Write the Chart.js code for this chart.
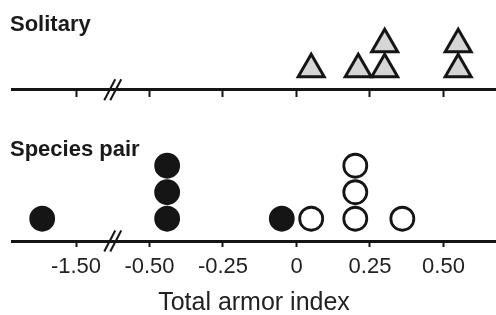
<!DOCTYPE html>
<html>
<head>
<meta charset="utf-8">
<script src="https://cdn.jsdelivr.net/npm/chart.js@4/dist/chart.umd.min.js"></script>
<style>
  html, body { margin: 0; padding: 0; background: #fff; overflow: hidden; }
  #wrap { position: relative; width: 496px; height: 315px; }
  .panel {
    position: absolute; left: 10px;
    font: bold 22px "Liberation Sans", Arial, Helvetica, sans-serif;
    line-height: 22px; color: #1a1a1a; white-space: nowrap;
  }
</style>
</head>
<body>
<div id="wrap">
  <canvas id="armorChart" width="496" height="315"></canvas>
  <div class="panel" style="top:13px">Solitary</div>
  <div class="panel" style="top:138px">Species pair</div>
</div>
<script>
// data (total armor index per population)
const tickValues = [-1.5, -0.5, -0.25, 0, 0.25, 0.5];
const tickLabels = ['-1.50', '-0.50', '-0.25', '0', '0.25', '0.50'];
const solitary = [0.05, 0.21, 0.30, 0.30, 0.55, 0.55];
const pairFilled = [-1.96, -0.44, -0.44, -0.44, -0.05];
const pairOpen = [0.05, 0.20, 0.20, 0.20, 0.36];

// broken axis: everything below -0.5 is squeezed to a quarter
const BREAK_AT = -0.5;
const SQUEEZE = 0.25;
const toAxis = v => (v >= BREAK_AT ? v : BREAK_AT + (v - BREAK_AT) * SQUEEZE);

// panel layout (y scale units)
const TOP_AXIS_Y = 5.71;
const TRI_BASE = 6.48, TRI_STEP = 0.943;
const DOT_BASE = 0.84, DOT_STEP = 1;

// stack repeated values on top of each other
function stack(values, base, step) {
    const seen = {};
    return values.map(v => {
        const n = seen[v] || 0;
        seen[v] = n + 1;
        return { x: toAxis(v), y: base + n * step };
    });
}

const FONT = '"Liberation Sans", Arial, Helvetica, sans-serif';
const INK = '#151515';

const setTicks = scale => {
    scale.ticks = tickValues.map(v => ({ value: toAxis(v) }));
};

const breakMarks = {
    id: 'breakMarks',
    afterDraw(chart) {
        const ctx = chart.ctx;
        const sx = chart.scales.x;
        const px = sx.getPixelForValue((toAxis(-1.5) + toAxis(-0.5)) / 2);
        const rows = [chart.scales.y.getPixelForValue(TOP_AXIS_Y), chart.chartArea.bottom];
        ctx.save();
        ctx.strokeStyle = INK;
        ctx.lineWidth = 2;
        rows.forEach(py => {
            [-3, 3].forEach(off => {
                ctx.beginPath();
                ctx.moveTo(px + off - 5.5, py + 10.5);
                ctx.lineTo(px + off + 5.5, py - 10.5);
                ctx.stroke();
            });
        });
        ctx.restore();
    }
};

const axisGrid = len => ({
    display: true,
    drawOnChartArea: false,
    drawTicks: true,
    tickLength: len,
    tickWidth: 2,
    tickColor: INK
});

new Chart(document.getElementById('armorChart'), {
    type: 'scatter',
    data: {
        datasets: [
            {
                label: 'Solitary',
                data: stack(solitary, TRI_BASE, TRI_STEP),
                pointStyle: 'triangle',
                pointRadius: 15,
                pointBorderWidth: 3,
                pointBackgroundColor: '#d6d6d6',
                pointBorderColor: INK
            },
            {
                label: 'Pair filled',
                data: stack(pairFilled, DOT_BASE, DOT_STEP),
                pointStyle: 'circle',
                pointRadius: 11.5,
                pointBorderWidth: 2.8,
                pointBackgroundColor: INK,
                pointBorderColor: INK
            },
            {
                label: 'Pair open',
                data: stack(pairOpen, DOT_BASE, DOT_STEP),
                pointStyle: 'circle',
                pointRadius: 11.5,
                pointBorderWidth: 2.8,
                pointBackgroundColor: '#ffffff',
                pointBorderColor: INK
            }
        ]
    },
    options: {
        responsive: false,
        animation: false,
        events: [],
        layout: { autoPadding: false, padding: { left: 12, right: 0, top: 0, bottom: 0 } },
        plugins: { legend: { display: false }, tooltip: { enabled: false } },
        scales: {
            x: {
                type: 'linear',
                position: 'bottom',
                min: -0.9677,
                max: 0.6786,
                afterBuildTicks: setTicks,
                afterFit: s => { s.height = 74; },
                grid: axisGrid(6),
                border: { display: true, color: INK, width: 3 },
                ticks: {
                    padding: 9,
                    color: '#222',
                    font: { family: FONT, size: 22, lineHeight: 1 },
                    callback: (val, i) => tickLabels[i]
                },
                title: {
                    display: true,
                    text: 'Total armor index',
                    color: '#222',
                    padding: { top: 0, bottom: -1 },
                    font: { family: FONT, size: 25, lineHeight: 1 }
                }
            },
            xTop: {
                type: 'linear',
                axis: 'x',
                position: { y: TOP_AXIS_Y },
                min: -0.9677,
                max: 0.6786,
                afterBuildTicks: setTicks,
                grid: axisGrid(6),
                border: { display: true, color: INK, width: 3 },
                ticks: { display: false }
            },
            y: {
                type: 'linear',
                display: false,
                min: 0,
                max: 9.094
            }
        }
    },
    plugins: [breakMarks]
});
</script>
</body>
</html>
